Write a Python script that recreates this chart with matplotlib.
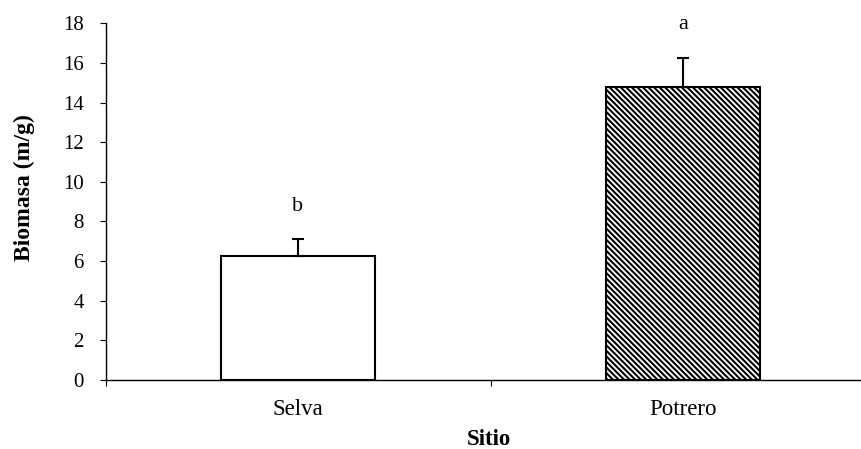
import matplotlib.pyplot as plt

plt.rcParams['font.family'] = 'Liberation Serif'
plt.rcParams['hatch.linewidth'] = 1.5

sitios = ['Selva', 'Potrero']
biomasa = [6.27, 14.77]
error = [0.83, 1.48]
letras = ['b', 'a']
hatches = ['', '\\\\\\\\\\\\']

fig = plt.figure(figsize=(8.62, 4.49), dpi=100)
ax = fig.add_axes([0.1224, 0.1537, 0.8933, 0.7944])

x = range(len(sitios))
for i in x:
    ax.bar(i, biomasa[i], width=0.4, color='white', edgecolor='black',
           linewidth=1.5, hatch=hatches[i], zorder=2)
    ax.errorbar(i, biomasa[i], yerr=[[0], [error[i]]], fmt='none',
                ecolor='black', elinewidth=1.5, capsize=4.5, capthick=1.5, zorder=3)
    ax.text(i, biomasa[i] + error[i] + 1.45, letras[i], ha='center', va='baseline',
            fontsize=16, clip_on=False)

ax.set_xlim(-0.5, 1.5)
ax.set_ylim(0, 18)
ax.set_yticks(range(0, 19, 2))
ax.set_xticks([-0.5, 0.5, 1.5])
ax.set_xticklabels(['', '', ''])
ax.set_xticks(list(x), minor=True)
ax.set_xticklabels(sitios, minor=True)
ax.tick_params(axis='x', which='minor', length=0, labelsize=16.5, pad=14)
ax.tick_params(axis='x', which='major', length=4, direction='out', width=0.8)
ax.tick_params(axis='y', length=4.5, width=0.8, labelsize=15, pad=11)

for s in ['top', 'right']:
    ax.spines[s].set_visible(False)
ax.spines['left'].set_linewidth(1.0)
ax.spines['bottom'].set_linewidth(1.0)

ax.set_ylabel('Biomasa (m/g)', fontsize=17, fontweight='bold')
ax.yaxis.set_label_coords(-0.091, 0.54)
fig.text(489 / 862, 1 - 445 / 449, 'Sitio', ha='center', va='baseline',
         fontsize=16.5, fontweight='bold')

fig.savefig('out.png', dpi=100)
